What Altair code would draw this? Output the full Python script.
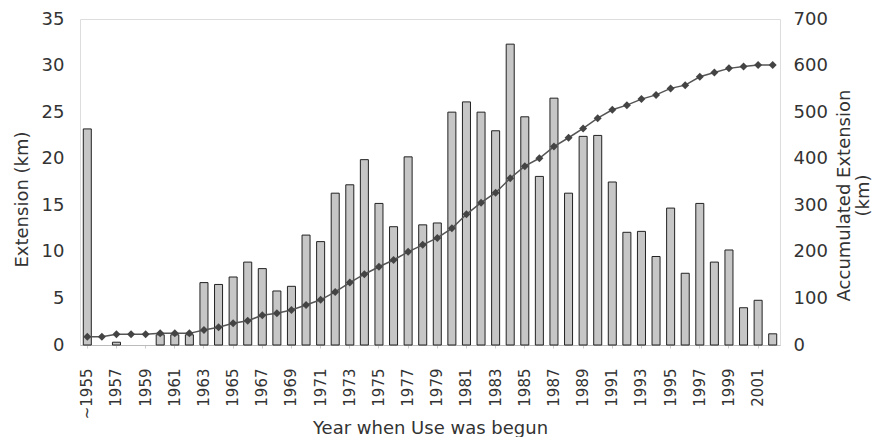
import altair as alt
import pandas as pd

years = ["~1955", "1956", "1957", "1958", "1959", "1960", "1961", "1962", "1963", "1964",
         "1965", "1966", "1967", "1968", "1969", "1970", "1971", "1972", "1973", "1974",
         "1975", "1976", "1977", "1978", "1979", "1980", "1981", "1982", "1983", "1984",
         "1985", "1986", "1987", "1988", "1989", "1990", "1991", "1992", "1993", "1994",
         "1995", "1996", "1997", "1998", "1999", "2000", "2001", "2002"]

extension = [23.2, None, 0.3, None, None, 1.1, 1.1, 1.1, 6.7, 6.5,
             7.3, 8.9, 8.2, 5.8, 6.3, 11.8, 11.1, 16.3, 17.2, 19.9,
             15.2, 12.7, 20.2, 12.9, 13.1, 25.0, 26.1, 25.0, 23.0, 32.3,
             24.5, 18.1, 26.5, 16.3, 22.4, 22.5, 17.5, 12.1, 12.2, 9.5,
             14.7, 7.7, 15.2, 8.9, 10.2, 4.0, 4.8, 1.2]

accumulated = [17.8, 17.8, 23, 23, 23, 25, 25, 25, 32, 38,
               46.5, 52, 64, 68, 75, 86, 97, 114, 134, 152,
               168, 182.5, 200, 215, 230, 250.5, 280.6, 305.6, 327, 358,
               384, 401, 426, 445, 465, 487, 505, 515, 528, 537,
               551, 558, 576, 585, 594, 598, 601, 601]

x_labels = ["~1955", "1957", "1959", "1961", "1963", "1965", "1967", "1969", "1971",
            "1973", "1975", "1977", "1979", "1981", "1983", "1985", "1987", "1989",
            "1991", "1993", "1995", "1997", "1999", "2001"]
left_ticks = [0, 5, 10, 15, 20, 25, 30, 35]
right_ticks = [0, 100, 200, 300, 400, 500, 600, 700]

df = pd.DataFrame({"year": years, "ext": extension, "acc": accumulated})

FONT = "DejaVu Sans"
TXT = "#333333"

x_enc = alt.X(
    "year:N", sort=years,
    scale=alt.Scale(paddingInner=0.45, paddingOuter=0.225),
    axis=alt.Axis(
        values=x_labels, labelAngle=-90, labelFont=FONT, labelFontSize=15,
        labelColor=TXT, labelPadding=20, ticks=True, tickSize=3, tickColor="#cccccc",
        domainColor="#bbbbbb", grid=False, title="Year when Use was begun", titleFont=FONT,
        titleFontSize=18, titleFontWeight="normal", titleColor=TXT,
        titleY=74, titleBaseline="top",
    ),
)

bars = alt.Chart(df).mark_bar(
    fill="#c6c6c6", stroke="#222222", strokeWidth=1
).encode(
    x=x_enc,
    y=alt.Y("ext:Q", scale=alt.Scale(domain=[0, 35]),
            axis=alt.Axis(values=left_ticks, ticks=False, domain=False, grid=False,
                          labelFont=FONT, labelFontSize=18, labelColor=TXT,
                          labelPadding=16, title="Extension (km)", titleFont=FONT,
                          titleFontSize=18, titleFontWeight="normal", titleColor=TXT,
                          titlePadding=10, titleY=180)),
)

def right_axis():
    return alt.Axis(values=right_ticks, orient="right", ticks=False, domain=False,
                    grid=False, labelFont=FONT, labelFontSize=18, labelColor=TXT,
                    labelPadding=13, title=["Accumulated Extension", "(km)"],
                    titleFont=FONT, titleFontSize=18, titleFontWeight="normal",
                    titleColor=TXT, titleAngle=270, titlePadding=7,
                    titleLineHeight=19, titleY=176)

line = alt.Chart(df).mark_line(color="#555555", strokeWidth=1.5).encode(
    x=x_enc,
    y=alt.Y("acc:Q", scale=alt.Scale(domain=[0, 700]), axis=right_axis()),
)
points = alt.Chart(df).mark_point(
    shape="diamond", filled=True, color="#444444", size=64, opacity=1
).encode(
    x=x_enc,
    y=alt.Y("acc:Q", scale=alt.Scale(domain=[0, 700]), axis=right_axis()),
)

right = alt.layer(line, points)

chart = alt.layer(bars, right).resolve_scale(y="independent").properties(
    width=700, height=326,
    autosize=alt.AutoSizeParams(type="none"),
    padding={"left": 72, "top": 11, "right": 96, "bottom": 92},
).configure_view(strokeWidth=0, stroke="transparent").configure(background="white")

chart.save("out.html", embed_options={"renderer": "svg", "actions": False})
